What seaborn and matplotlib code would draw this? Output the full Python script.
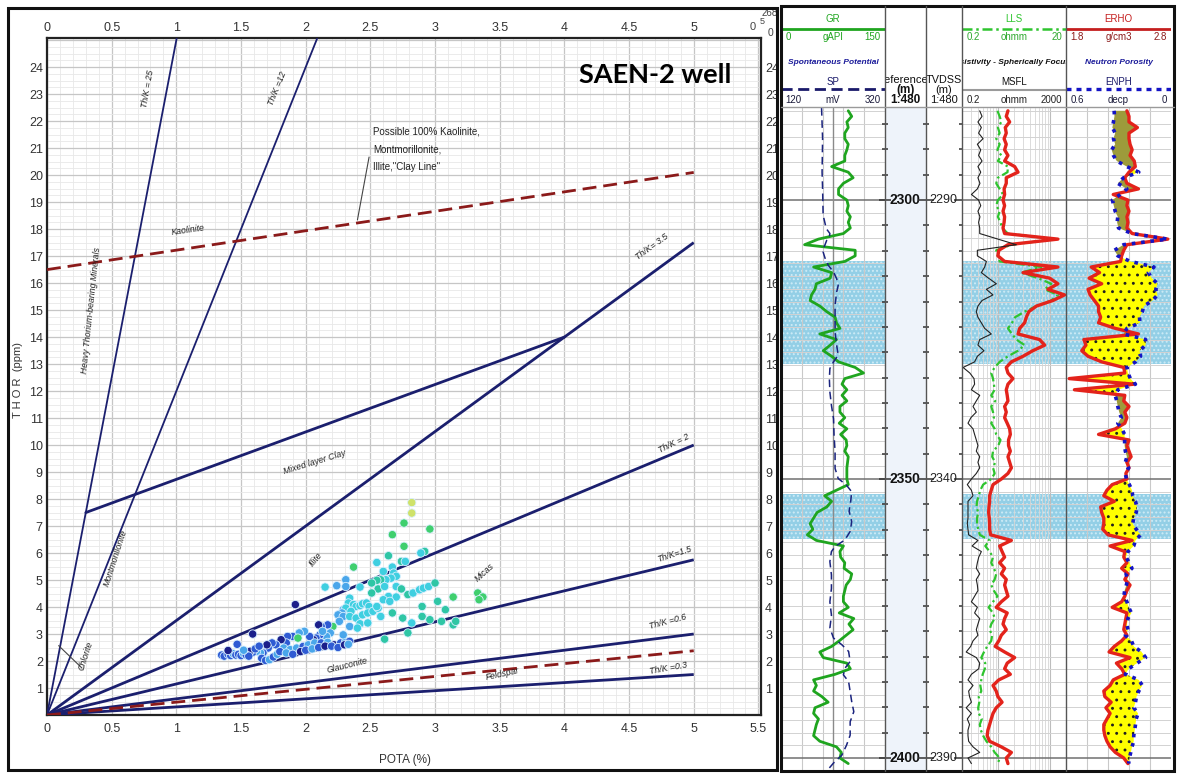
import numpy as np
import matplotlib
matplotlib.use("Agg")
import matplotlib.pyplot as plt
from matplotlib.patches import Rectangle
from matplotlib.lines import Line2D
from matplotlib.ticker import MultipleLocator, FixedLocator, NullFormatter, FuncFormatter, LogLocator
import seaborn as sns

# ---------------------------------------------------------------- data
# Th/K crossplot: spectral-gamma samples (potassium %, thorium ppm, colour class)
pota = [2.82, 2.82, 2.76, 2.96, 2.67, 2.76, 2.92, 2.89, 2.64, 2.74, 2.77, 2.55, 2.37, 2.67, 2.60,
        2.68, 2.70, 2.66, 2.62, 2.58, 2.55, 2.51, 2.15, 2.24, 2.31, 2.31, 2.42, 2.56, 2.61, 2.70,
        2.74, 2.79, 2.83, 2.88, 2.91, 2.95, 3.00, 2.51, 2.64, 2.70, 2.60, 2.65, 3.02, 3.14, 3.33,
        3.37, 3.34,
        2.34, 2.33, 2.37, 2.39, 2.42, 2.44, 2.47, 2.49, 2.29, 2.31, 2.35, 2.28, 2.25, 2.29, 2.34,
        2.39, 2.44, 2.48, 2.52, 2.56, 2.55, 2.58, 2.67, 2.75, 2.79, 2.61, 2.90, 2.90, 2.96, 3.08,
        3.05, 3.14, 3.16, 2.82, 2.42, 2.48, 2.34, 2.40, 2.26,
        1.92, 2.21, 2.17, 2.12, 2.10, 2.19, 2.16, 2.11, 2.08, 2.06, 2.03, 1.99, 1.95, 1.90, 1.86,
        1.85, 1.81, 1.77, 1.74, 1.71, 1.67, 1.65, 1.62, 1.59, 1.57, 1.83, 1.88, 1.93, 1.98, 2.02,
        2.07, 2.12, 2.17, 2.22, 2.27, 2.31, 2.34, 1.94, 2.29, 2.13,
        1.35, 1.37, 1.40, 1.42, 1.44, 1.46, 1.48, 1.50, 1.52, 1.54, 1.56, 1.40, 1.47, 1.59, 1.61,
        1.66, 1.69, 1.72, 1.75, 1.78, 1.80, 1.70, 1.64, 1.52, 1.85, 1.90, 1.96, 2.00, 2.05, 2.10,
        2.15, 2.20, 2.25, 2.30, 2.33]
thor = [7.87, 7.48, 7.11, 6.89, 6.68, 6.25, 6.06, 6.00, 5.90, 5.69, 5.69, 5.65, 5.48, 5.48, 5.32,
        5.26, 5.14, 5.07, 5.01, 5.01, 4.99, 4.89, 4.74, 4.79, 5.01, 4.76, 4.74, 4.67, 4.76, 4.76,
        4.67, 4.46, 4.52, 4.64, 4.70, 4.76, 4.89, 4.52, 4.39, 4.37, 4.27, 4.21, 4.21, 4.37, 4.52,
        4.37, 4.27,
        4.33, 4.15, 4.09, 4.02, 4.05, 4.12, 4.15, 4.02, 3.90, 3.96, 3.84, 3.78, 3.71, 3.65, 3.65,
        3.59, 3.71, 3.78, 3.84, 3.96, 4.02, 3.65, 3.78, 3.59, 3.04, 2.81, 4.02, 3.65, 3.53, 3.90,
        3.47, 3.34, 3.47, 3.41, 3.38, 3.41, 3.28, 3.22, 3.47,
        4.09, 3.28, 3.34, 3.28, 3.34, 3.04, 2.91, 2.97, 2.85, 2.79, 2.91, 3.10, 3.04, 2.91, 2.91,
        2.67, 2.79, 2.60, 2.67, 2.48, 2.30, 2.30, 2.36, 2.32, 2.36, 2.48, 2.42, 2.48, 2.54, 2.60,
        2.67, 2.67, 2.69, 2.60, 2.67, 2.73, 2.73, 2.85, 2.97, 3.10,
        2.22, 2.18, 2.25, 2.20, 2.27, 2.22, 2.25, 2.20, 2.28, 2.22, 2.18, 2.39, 2.62, 3.00, 2.45,
        2.10, 2.02, 2.05, 2.15, 2.25, 2.35, 2.60, 2.55, 2.40, 2.30, 2.25, 2.35, 2.40, 2.45, 2.50,
        2.55, 2.55, 2.50, 2.60, 2.62]
zclass = [6, 6, 5, 5, 5, 5, 4, 3, 4, 4, 3, 3, 5, 3, 3,
          3, 3, 3, 3, 4, 4, 4, 3, 2, 2, 2, 3, 4, 3, 3,
          4, 4, 3, 3, 3, 3, 4, 4, 3, 3, 3, 3, 4, 5, 5,
          5, 5,
          3, 3, 3, 3, 3, 3, 3, 3, 2, 3, 3, 2, 2, 2, 3,
          3, 3, 3, 3, 3, 3, 3, 4, 4, 4, 4, 4, 4, 4, 4,
          4, 4, 4, 3, 3, 3, 2, 3, 2,
          0, 5, 1, 1, 0, 2, 2, 1, 1, 0, 1, 2, 2, 1, 1,
          1, 0, 1, 1, 1, 1, 2, 2, 1, 0, 2, 2, 2, 1, 2,
          2, 1, 2, 0, 1, 2, 1, 5, 2, 2,
          1, 1, 1, 1, 2, 1, 1, 1, 2, 1, 1, 0, 1, 0, 1,
          1, 1, 2, 1, 2, 1, 0, 1, 2, 2, 1, 0, 1, 2, 1,
          0, 1, 1, 0, 2]

# Th/K reference lines drawn from the origin
ratio_labels = ["Th/K = 25", "Th/K =12", "Th/K= 3.5", "Th/K = 2", "Th/K=1.5", "Th/K =0.6", "Th/K =0.3"]
ratio_end_k = [1.003, 2.09, 5.0, 5.0, 5.0, 5.0, 5.0]
ratio_end_th = [25.08, 25.08, 17.5, 10.0, 5.75, 3.0, 1.5]
clay_line_k, clay_line_th = [0.0, 5.0], [16.5, 20.1]
feldspar_k, feldspar_th = [0.0, 5.0], [0.0, 2.38]
mixed_k, mixed_th = [0.3, 4.0], [7.5, 14.0]

# Well log: depth index (m) and curves
depth = np.arange(2284, 2402)
gr = [97, 102, 95, 97, 92, 92, 97, 95, 92, 92,
      73, 97, 104, 90, 83, 83, 95, 97, 95, 100,
      97, 100, 90, 54, 34, 107, 107, 92, 47, 73,
      71, 51, 49, 44, 42, 56, 66, 78, 80, 85,
      56, 80, 71, 61, 73, 83, 107, 119, 92, 88,
      95, 88, 95, 85, 85, 92, 84, 95, 86, 94,
      95, 92, 97, 96, 95, 95, 95, 97, 80, 63,
      73, 66, 52, 47, 42, 46, 38, 51, 90, 85,
      86, 92, 91, 102, 100, 94, 92, 90, 90, 97,
      84, 105, 98, 104, 94, 84, 73, 56, 61, 95,
      100, 78, 47, 51, 47, 59, 68, 49, 47, 54,
      51, 49, 47, 56, 80, 87, 85, 97]
sp_depth = [2283.5, 2289, 2295, 2298, 2302.7, 2305.1, 2306, 2306.6, 2307.2, 2308.4, 2309.3, 2310.5,
            2311.7, 2312.9, 2314.1, 2315.3, 2316.5, 2318.8, 2323.6, 2326, 2327.8, 2329, 2330.2,
            2332, 2334.4, 2336.8, 2339.2, 2342.1, 2345.1, 2348.1, 2349.9, 2351.1, 2352.3, 2354,
            2355.8, 2357.6, 2359.4, 2360.9, 2362.1, 2363, 2364.8, 2367.2, 2369.6, 2372, 2374.4,
            2376.7, 2378.5, 2379.7, 2380.9, 2382.7, 2383.9, 2385.1, 2386.3, 2388.1, 2389.9,
            2391.7, 2393.5, 2395.9, 2397.7, 2399.5, 2400.9, 2402]
sp = [198, 200, 199, 200, 201, 207, 214, 213, 208, 203, 201, 205, 211, 221, 227, 230, 227, 224,
      224, 227, 230, 221, 214, 213, 214, 217, 221, 222, 224, 224, 230, 246, 256, 254, 251, 256,
      253, 243, 224, 217, 214, 217, 217, 214, 217, 214, 221, 237, 250, 253, 243, 240, 250, 253,
      256, 260, 253, 253, 246, 237, 221, 211]
msfl = [0.96, 1.18, 0.82, 1.11, 0.87, 1.29, 0.78, 1.05, 0.87, 1.18,
        0.82, 1.05, 0.82, 0.98, 0.78, 0.46, 0.87, 1.05, 0.82, 0.98,
        0.87, 0.96, 0.96, 4.85, 24.6, 0.78, 0.78, 1.73, 1.49, 1.11,
        2.1, 4.2, 1.73, 3.1, 1.18, 0.82, 0.71, 0.82, 1.11, 1.49,
        2.69, 0.96, 0.82, 1.4, 0.78, 0.61, 0.22, 0.4, 0.58, 0.61,
        0.46, 0.96, 0.71, 0.53, 0.71, 0.44, 0.34, 0.53, 0.61, 0.71,
        0.82, 0.71, 0.96, 0.82, 0.96, 0.71, 0.46, 0.32, 0.46, 0.53,
        0.34, 0.34, 0.34, 0.34, 0.32, 0.34, 0.36, 0.82, 0.49, 1.11,
        0.88, 0.78, 0.71, 0.96, 0.71, 0.78, 0.82, 0.61, 0.46, 0.78,
        0.61, 0.96, 0.82, 0.71, 0.82, 0.53, 0.43, 0.29, 0.71, 0.96,
        0.88, 0.46, 0.34, 0.53, 0.36, 0.39, 0.46, 0.29, 0.46, 0.32,
        0.39, 0.34, 0.34, 0.36, 0.53, 0.96, 0.34, 0.46]
lls = [0.96, 1.06, 1.14, 0.98, 1.06, 0.91, 1.06, 0.96, 1.14, 0.98,
       1.53, 1.5, 0.98, 0.91, 1.06, 1.23, 0.98, 0.91, 1.06, 0.98,
       1.1, 1.18, 1.53, 12.1, 1.78, 0.91, 0.98, 1.06, 6.7, 2.77,
       5.8, 10.4, 7.8, 14.0, 10.4, 5.4, 3.2, 2.1, 1.83, 1.53,
       1.83, 2.22, 3.2, 2.39, 1.53, 1.06, 0.85, 0.73, 0.79, 0.82,
       0.85, 0.73, 0.87, 0.73, 0.79, 0.82, 0.73, 0.85, 0.91, 1.1,
       1.0, 0.79, 0.76, 0.87, 0.79, 0.85, 0.73, 0.51, 0.45, 0.42,
       0.39, 0.38, 0.41, 0.39, 0.39, 0.41, 0.44, 0.68, 0.56, 0.68,
       0.79, 0.73, 0.82, 0.91, 0.85, 0.73, 0.82, 0.96, 0.79, 0.65,
       0.79, 0.85, 0.73, 0.68, 0.76, 0.73, 0.61, 0.53, 0.47, 0.56,
       0.55, 0.5, 0.47, 0.45, 0.47, 0.42, 0.43, 0.41, 0.42, 0.48,
       0.44, 0.46, 0.51, 0.59, 0.73, 0.85, 1.06, 0.98]
lld = [1.53, 1.42, 1.65, 1.36, 1.42, 1.29, 1.42, 1.32, 1.53, 1.32,
       2.06, 2.39, 1.42, 1.42, 1.29, 1.32, 1.23, 1.32, 1.23, 1.32,
       1.29, 1.23, 1.32, 14.0, 1.53, 1.02, 0.98, 1.32, 14.0, 2.98,
       9.7, 14.0, 9.0, 18.8, 11.2, 5.4, 3.85, 3.45, 3.2, 2.57,
       2.39, 6.2, 7.8, 4.6, 2.98, 1.78, 1.42, 1.53, 1.91, 1.53,
       1.42, 1.48, 1.53, 1.32, 1.42, 1.32, 1.48, 1.65, 1.7, 1.57,
       1.57, 1.7, 1.53, 1.65, 1.78, 1.53, 1.14, 0.79, 0.73, 0.68,
       0.68, 0.66, 0.65, 0.67, 0.68, 0.68, 0.71, 1.78, 1.06, 1.18,
       1.32, 1.06, 1.32, 1.14, 1.42, 1.32, 1.42, 1.53, 1.14, 0.91,
       1.48, 1.32, 1.23, 1.42, 1.14, 1.02, 0.87, 1.32, 2.06, 1.48,
       1.32, 1.7, 1.02, 0.79, 0.91, 0.98, 1.18, 0.91, 0.79, 0.73,
       0.68, 0.63, 0.61, 0.68, 1.14, 1.78, 1.42, 1.53]
rhob = [2.38, 2.40, 2.40, 2.48, 2.40, 2.40, 2.41, 2.43, 2.41, 2.45,
        2.46, 2.40, 2.36, 2.38, 2.49, 2.25, 2.39, 2.38, 2.40, 2.38,
        2.39, 2.38, 2.43, 2.77, 2.38, 2.35, 2.33, 2.32, 2.04, 2.12,
        2.02, 2.14, 2.01, 2.03, 2.07, 2.11, 2.11, 2.13, 2.11, 2.27,
        2.49, 1.97, 1.99, 1.95, 2.01, 2.14, 2.35, 2.36, 1.83, 2.45,
        1.88, 2.36, 2.35, 2.40, 2.36, 2.38, 2.36, 2.27, 2.11, 2.40,
        2.38, 2.40, 2.42, 2.38, 2.40, 2.37, 2.38, 2.24, 2.19, 2.16,
        2.26, 2.13, 2.14, 2.16, 2.16, 2.15, 2.20, 2.43, 2.22, 2.36,
        2.35, 2.38, 2.33, 2.39, 2.36, 2.41, 2.38, 2.36, 2.33, 2.24,
        2.38, 2.37, 2.36, 2.35, 2.38, 2.33, 2.26, 2.21, 2.41, 2.28,
        2.33, 2.36, 2.25, 2.22, 2.16, 2.17, 2.23, 2.18, 2.22, 2.19,
        2.16, 2.16, 2.17, 2.19, 2.22, 2.27, 2.35, 2.39]
nphi = [0.325, 0.323, 0.329, 0.335, 0.319, 0.329, 0.319, 0.339, 0.329, 0.310,
        0.252, 0.184, 0.271, 0.304, 0.252, 0.290, 0.335, 0.327, 0.319, 0.304,
        0.308, 0.300, 0.223, 0.019, 0.271, 0.323, 0.304, 0.232, 0.097, 0.130,
        0.110, 0.077, 0.087, 0.077, 0.106, 0.155, 0.164, 0.180, 0.178, 0.252,
        0.271, 0.145, 0.145, 0.180, 0.174, 0.203, 0.252, 0.246, 0.232, 0.203,
        0.304, 0.319, 0.310, 0.304, 0.296, 0.284, 0.304, 0.281, 0.265, 0.265,
        0.265, 0.261, 0.252, 0.261, 0.242, 0.261, 0.255, 0.238, 0.223, 0.219,
        0.203, 0.195, 0.199, 0.213, 0.219, 0.199, 0.174, 0.203, 0.213, 0.246,
        0.257, 0.238, 0.223, 0.257, 0.248, 0.255, 0.265, 0.269, 0.252, 0.242,
        0.226, 0.246, 0.252, 0.246, 0.261, 0.226, 0.213, 0.168, 0.145, 0.194,
        0.242, 0.261, 0.184, 0.164, 0.184, 0.197, 0.203, 0.213, 0.188, 0.199,
        0.203, 0.207, 0.213, 0.213, 0.223, 0.230, 0.238, 0.242]
zones = [(2310.9, 2329.4), (2352.7, 2360.8)]
ref_labels = [2300, 2350, 2400]
tvdss_labels = [2290, 2340, 2390]

# ---------------------------------------------------------------- style
sns.set_theme(style="white")
SANS = ["Liberation Sans", "DejaVu Sans"]
plt.rcParams["font.family"] = SANS
plt.rcParams["hatch.linewidth"] = 0.9

W, H = 1178, 775
fig = plt.figure(figsize=(W / 100, H / 100), dpi=100)
fig.patch.set_facecolor("white")


def px_axes(x0, y0, x1, y1, **kw):
    return fig.add_axes([x0 / W, 1 - y1 / H, (x1 - x0) / W, (y1 - y0) / H], **kw)


NAVY = "#1b1f6e"
DRED = "#8b1a1a"

# ---------------------------------------------------------------- crossplot
ax = px_axes(47, 38, 761, 715)
ax.set_facecolor("white")
ax.xaxis.set_major_locator(MultipleLocator(0.5))
ax.xaxis.set_minor_locator(MultipleLocator(0.1))
ax.yaxis.set_major_locator(MultipleLocator(1))
ax.yaxis.set_minor_locator(MultipleLocator(0.25))
ax.grid(which="major", color="#c6c6c6", lw=0.9)
ax.grid(which="minor", color="#e8e8e8", lw=0.6)
ax.set_axisbelow(True)

for k1, t1 in zip(ratio_end_k, ratio_end_th):
    lw = 1.3 if t1 > 20 else 2.0
    ax.plot([0, k1], [0, t1], color=NAVY, lw=lw, zorder=3, solid_capstyle="butt")
ax.plot(mixed_k, mixed_th, color=NAVY, lw=2.0, zorder=3)
ax.plot(clay_line_k, clay_line_th, color=DRED, lw=2.0, ls=(0, (5, 2.5)), zorder=3)
ax.plot(feldspar_k, feldspar_th, color=DRED, lw=2.0, ls=(0, (5, 2.5)), zorder=3)
ax.plot([0.09, 0.27], [2.57, 1.74], color="#444444", lw=0.8, zorder=3)
ax.plot([2.40, 2.49], [18.34, 20.67], color="#444444", lw=0.8, zorder=3)

palette = {0: "#1b1f8a", 1: "#2f5bd3", 2: "#4aa6ea", 3: "#3fcfe0",
           4: "#2fc6a5", 5: "#3fcf6e", 6: "#cfe26a"}
sns.scatterplot(x=pota, y=thor, hue=zclass, palette=palette, legend=False, s=36,
                edgecolor="#d8efff", linewidth=0.6, ax=ax, zorder=5)

ax.set_xlim(0, 5.52)
ax.set_ylim(0, 25.08)
ax.set_xlabel("")
ax.set_ylabel("")

fmt = FuncFormatter(lambda v, p: f"{v:g}")
ax.xaxis.set_major_formatter(fmt)
ax.yaxis.set_major_formatter(FuncFormatter(lambda v, p: f"{int(round(v))}" if 1 <= round(v) <= 24 else ""))
ax.tick_params(which="both", length=0)
ax.tick_params(axis="x", labelsize=9, pad=6, colors="#333333")
ax.tick_params(axis="y", labelsize=9, pad=3, colors="#333333")
ax.yaxis.set_tick_params(which="major", labelright=True)
top = ax.secondary_xaxis("top")
top.set_xticks(np.arange(0, 5.01, 0.5))
top.xaxis.set_major_formatter(fmt)
top.tick_params(length=0, labelsize=9, pad=3, colors="#333333")
top.spines["top"].set_visible(False)
for s in ax.spines.values():
    s.set_color("#222222")
    s.set_linewidth(1.6)

tiny = dict(fontsize=6.3, style="italic", color="#222222", ha="center", va="center", zorder=6)
crossplot_labels = [
    ("Th/K = 25", 0.78, 23.2, 80), ("Th/K =12", 1.78, 23.2, 68), ("Kaolinite", 1.09, 17.95, 8),
    ("Th/K= 3.5", 4.68, 17.35, 36), ("Heavy Thorium-bearing Minerals", 0.34, 15.0, 84),
    ("Mixed layer Clay", 2.07, 9.35, 17), ("Montmorillonite", 0.53, 5.8, 72),
    ("Chlorite", 0.30, 2.2, 72), ("Illite", 2.08, 5.75, 50), ("Micas", 3.38, 5.27, 42),
    ("Th/K = 2", 4.85, 10.05, 26), ("Th/K=1.5", 4.85, 5.95, 18), ("Th/K =0.6", 4.8, 3.45, 15),
    ("Glauconite", 2.32, 1.83, 14), ("Feldspar", 3.52, 1.52, 12), ("Th/K =0.3", 4.8, 1.72, 10),
]
for txt, x, y, rot in crossplot_labels:
    ax.text(x, y, txt, rotation=rot, **tiny)
for i, line in enumerate(["Possible 100% Kaolinite,", "Montmorillonite,", 'Illite,"Clay Line"']):
    ax.text(2.52, 21.6 - 0.65 * i, line, fontsize=7, color="#222222", ha="left", va="center", zorder=6)

fig.text(655 / W, 1 - 75 / H, "SAEN-2 well", fontsize=19.5, fontweight="bold",
         family=["Lato", "DejaVu Sans"], ha="center", va="center", color="black")
fig.text(405 / W, 1 - 760 / H, "POTA (%)", fontsize=8.5, ha="center", va="center", color="#333333")
fig.text(18 / W, 1 - 380 / H, "T H O R  (ppm)", fontsize=8, rotation=90, ha="center", va="center",
         color="#333333")
for txt, x, y, fs in [("0", 753, 27, 8), ("5", 762, 21, 6.5), ("268", 770, 13, 7), ("0", 771, 33, 7.5)]:
    fig.text(x / W, 1 - y / H, txt, fontsize=fs, ha="center", va="center", color="#444444")

# ---------------------------------------------------------------- well log tracks
DTOP, DBOT = 2283.5, 2402.15
STEP = 50 / 22
grid_depths = 2300 + STEP * np.arange(-7, 45)
tick_depths = 2300 + 2 * STEP * np.arange(-3, 23)
tracks_x = [(781, 885), (885, 926), (926, 962), (962, 1066), (1066, 1171)]
BODY_TOP, BODY_BOT = 108, 770


def body_axes(i, face="white"):
    x0, x1 = tracks_x[i]
    a = px_axes(x0, BODY_TOP, x1, BODY_BOT)
    a.set_facecolor(face)
    a.set_ylim(DBOT, DTOP)
    for s in a.spines.values():
        s.set_visible(False)
    a.yaxis.set_major_locator(FixedLocator(ref_labels))
    a.yaxis.set_minor_locator(FixedLocator(grid_depths))
    a.yaxis.set_major_formatter(NullFormatter())
    a.yaxis.set_minor_formatter(NullFormatter())
    a.tick_params(which="both", length=0, labelleft=False, labelbottom=False)
    return a


def hgrid(a):
    a.grid(which="minor", axis="y", color="#d2d2d2", lw=0.7)
    a.grid(which="major", axis="y", color="#707070", lw=1.1)
    a.set_axisbelow(False)


def shade_zones(a):
    for z0, z1 in zones:
        a.axhspan(z0, z1, facecolor="#93cfe6", edgecolor="#cdebf6", hatch="....", lw=0, zorder=0.5)


def twin(a, lo, hi, log=False):
    b = a.twiny()
    if log:
        b.set_xscale("log")
    b.set_xlim(lo, hi)
    for s in b.spines.values():
        s.set_visible(False)
    b.tick_params(which="both", length=0, labeltop=False, labelbottom=False, top=False)
    return b


def curve(a, x, y, **kw):
    sns.lineplot(x=np.asarray(x, float), y=np.asarray(y, float), orient="y", sort=False,
                 estimator=None, legend=False, ax=a, **kw)
    a.set_xlabel("")
    a.set_ylabel("")


# Track 1: GR / SP
t1 = body_axes(0)
t1.set_xlim(0, 150)
t1.xaxis.set_major_locator(FixedLocator([30, 60, 90, 120]))
t1.xaxis.set_major_formatter(NullFormatter())
t1.grid(which="major", axis="x", color="#c9c9c9", lw=0.8)
hgrid(t1)
t1.axvline(75, color="#8a8a8a", lw=1.0, zorder=2.6)
shade_zones(t1)
curve(t1, gr, depth, color="#1fa51f", lw=2.0, zorder=4)
t1.set_xlim(0, 150)
t1.set_ylim(DBOT, DTOP)
sp_ax = twin(t1, 120, 320)
curve(sp_ax, sp, sp_depth, color="#1a237e", lw=1.1, linestyle=(0, (5, 3)), zorder=4)
sp_ax.set_xlim(120, 320)
sp_ax.set_ylim(DBOT, DTOP)

# Track 2: reference depth
t2 = body_axes(1, face="#eef3fa")
t2.set_xlim(0, 1)
t2.yaxis.set_minor_locator(FixedLocator(tick_depths))
t2.tick_params(axis="y", which="both", left=True, direction="inout", color="#333333", width=1.1)
t2.tick_params(axis="y", which="major", length=9)
t2.tick_params(axis="y", which="minor", length=5)
for d in ref_labels:
    t2.text(0.86, d, str(d), transform=t2.get_yaxis_transform(), ha="right", va="center",
            fontsize=10, fontweight="bold", color="#111111")

# Track 3: TVDSS, labelled on the same rows as the reference depths
t3 = body_axes(2)
t3.set_xlim(0, 1)
t3.yaxis.set_minor_locator(FixedLocator(tick_depths))
t3.tick_params(axis="y", which="both", left=True, right=True, direction="inout", color="#333333", width=1.1)
t3.tick_params(axis="y", which="major", length=12)
t3.tick_params(axis="y", which="minor", length=5)
for d, tv in zip(ref_labels, tvdss_labels):
    t3.text(0.87, d, str(tv), transform=t3.get_yaxis_transform(), ha="right", va="center",
            fontsize=9, color="#222222")

# Track 4: resistivity
t4 = body_axes(3)
t4.set_xscale("log")
t4.set_xlim(0.2, 20)
t4.xaxis.set_major_locator(FixedLocator([1, 10]))
t4.xaxis.set_minor_locator(LogLocator(base=10, subs=np.arange(2, 10)))
t4.xaxis.set_major_formatter(NullFormatter())
t4.xaxis.set_minor_formatter(NullFormatter())
t4.tick_params(which="both", length=0)
t4.grid(which="major", axis="x", color="#bdbdbd", lw=0.8)
t4.grid(which="minor", axis="x", color="#d6d6d6", lw=0.6)
hgrid(t4)
shade_zones(t4)
ms_ax = twin(t4, 0.2, 2000, log=True)
curve(ms_ax, msfl, depth, color="#222222", lw=0.8, zorder=4)
ms_ax.set_xlim(0.2, 2000)
ms_ax.set_ylim(DBOT, DTOP)
curve(t4, lls, depth, color="#2ec42e", lw=1.6, linestyle=(0, (4, 1.5, 1, 1.5)), zorder=4)
curve(t4, lld, depth, color="#e3231b", lw=2.4, zorder=5)
t4.set_xlim(0.2, 20)
t4.set_ylim(DBOT, DTOP)

# Track 5: density / neutron
t5 = body_axes(4)
t5.set_xlim(1.8, 2.8)
t5.xaxis.set_major_locator(FixedLocator([2.0, 2.2, 2.4, 2.6]))
t5.xaxis.set_major_formatter(NullFormatter())
t5.grid(which="major", axis="x", color="#c9c9c9", lw=0.8)
hgrid(t5)
shade_zones(t5)
rh = np.asarray(rhob)
nph_on_rhob = 1.8 + (0.6 - np.asarray(nphi)) / 0.6
t5.fill_betweenx(depth, rh, nph_on_rhob, where=rh < nph_on_rhob, interpolate=True,
                 facecolor="#ffff00", edgecolor="#202020", hatch="..", lw=0, zorder=2.7)
t5.fill_betweenx(depth, rh, nph_on_rhob, where=rh > nph_on_rhob, interpolate=True,
                 facecolor="#9d9b3b", lw=0, zorder=2.7)
curve(t5, rhob, depth, color="#e3231b", lw=2.4, zorder=5)
t5.set_xlim(1.8, 2.8)
t5.set_ylim(DBOT, DTOP)
np_ax = twin(t5, 0.6, 0.0)
curve(np_ax, nphi, depth, color="#1414c4", lw=2.6, linestyle=(0, (1, 1.6)), zorder=4)
np_ax.set_xlim(0.6, 0.0)
np_ax.set_ylim(DBOT, DTOP)

# ---------------------------------------------------------------- track headers
def header(i):
    x0, x1 = tracks_x[i]
    h = px_axes(x0, 7, x1, 107)
    h.set_xlim(0, 1)
    h.set_ylim(107, 7)
    h.axis("off")
    return h


def scale_row(h, y, left, mid, right, color, fs=7):
    h.text(0.04, y, left, ha="left", va="center", fontsize=fs, color=color)
    h.text(0.5, y, mid, ha="center", va="center", fontsize=fs, color=color)
    h.text(0.96, y, right, ha="right", va="center", fontsize=fs, color=color)


def clipped(h, x, y, s, ha="center", **kw):
    t = h.text(x, y, s, ha=ha, va="center", clip_on=True, **kw)
    t.set_clip_box(h.bbox)
    return t


h1 = header(0)
h1.text(0.5, 19, "GR", ha="center", va="center", fontsize=7, color="#1fa51f")
h1.plot([0, 1], [29, 29], color="#1fa51f", lw=2)
scale_row(h1, 37, "0", "gAPI", "150", "#1fa51f")
h1.text(0.5, 62, "Spontaneous Potential", ha="center", va="center", fontsize=6,
        fontweight="bold", style="italic", color="#1a1a9a")
h1.text(0.5, 82, "SP", ha="center", va="center", fontsize=7, color="#1a1a6a")
h1.plot([0, 1], [89, 89], color="#1a1a6a", lw=2, ls=(0, (4, 2)))
scale_row(h1, 100, "120", "mV", "320", "#1a1a3a")

h2 = header(1)
# column title is wider than the column and gets cut at its edges
clipped(h2, 1.05, 80, "Reference", ha="right", fontsize=8, color="#111111")
h2.text(0.5, 90, "(m)", ha="center", va="center", fontsize=8.5, fontweight="bold", color="#111111")
h2.text(0.5, 100, "1:480", ha="center", va="center", fontsize=8.5, fontweight="bold", color="#111111")

h3 = header(2)
h3.text(0.5, 80, "TVDSS", ha="center", va="center", fontsize=7.8, color="#111111")
h3.text(0.5, 90, "(m)", ha="center", va="center", fontsize=8, color="#111111")
h3.text(0.5, 100, "1:480", ha="center", va="center", fontsize=8, color="#111111")

h4 = header(3)
h4.text(0.5, 19, "LLS", ha="center", va="center", fontsize=7, color="#2ec42e")
h4.plot([0, 1], [29, 29], color="#2ec42e", lw=1.8, ls=(0, (4, 1.5, 1, 1.5)))
scale_row(h4, 37, "0.2", "ohmm", "20", "#2ea82e")
clipped(h4, 0.5, 62, "Resistivity - Spherically Focused", fontsize=6, fontweight="bold",
        style="italic", color="#111111")
h4.text(0.5, 82, "MSFL", ha="center", va="center", fontsize=7, color="#111111")
h4.plot([0, 1], [90, 90], color="#9a9a9a", lw=1.5)
scale_row(h4, 100, "0.2", "ohmm", "2000", "#222222")

h5 = header(4)
h5.text(0.5, 19, "ERHO", ha="center", va="center", fontsize=7, color="#c41e1e")
h5.plot([0, 1], [29, 29], color="#c41e1e", lw=2)
scale_row(h5, 37, "1.8", "g/cm3", "2.8", "#8b1a1a")
h5.text(0.5, 62, "Neutron Porosity", ha="center", va="center", fontsize=6,
        fontweight="bold", style="italic", color="#1a1a9a")
h5.text(0.5, 82, "ENPH", ha="center", va="center", fontsize=7, color="#1a1a6a")
h5.plot([0, 1], [89, 89], color="#1414c4", lw=2.4, ls=(0, (1.5, 1.5)))
scale_row(h5, 100, "0.6", "decp", "0", "#1a1a3a")

# ---------------------------------------------------------------- frames
ov = fig.add_axes([0, 0, 1, 1], facecolor="none")
ov.set_xlim(0, W)
ov.set_ylim(H, 0)
ov.axis("off")
ov.set_zorder(50)
ov.add_patch(Rectangle((8, 8), 769, 762, fill=False, ec="#111111", lw=2.2))
ov.add_patch(Rectangle((780.5, 6), 393, 765, fill=False, ec="#111111", lw=2.2))
for x in [885, 926, 962, 1066]:
    ov.add_line(Line2D([x, x], [6, 771], color="#555555", lw=1.0))
ov.add_line(Line2D([781, 1174], [107, 107], color="#9a9a9a", lw=1.0))

fig.savefig("out.png", dpi=100, facecolor="white")
